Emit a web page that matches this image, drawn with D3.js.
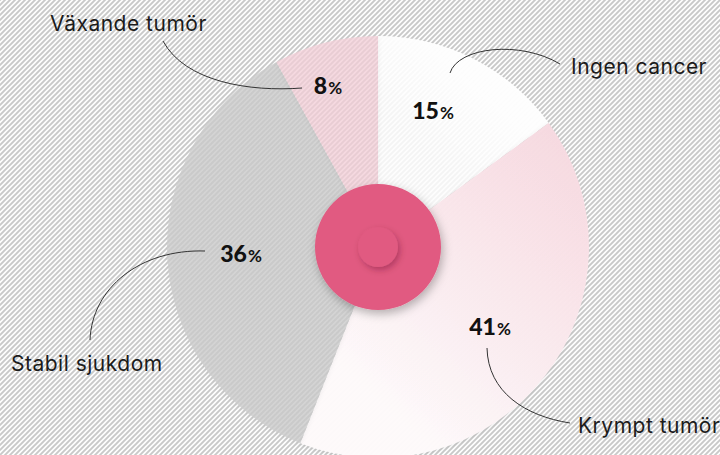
<!DOCTYPE html>
<html><head><meta charset="utf-8">
<script src="https://cdn.jsdelivr.net/npm/d3@7"></script>
<style>html,body{margin:0;padding:0;background:#fff;}svg{display:block;}</style>
</head><body><svg id="c" width="720" height="455"></svg>
<script>
// ---- data ----
const categories = ["Ingen cancer", "Krympt tumör", "Stabil sjukdom", "Växande tumör"];
const values = [15, 41, 36, 8];
const percentLabels = ["15", "41", "36", "8"];

// ---- layout ----
const W = 720, H = 455, cx = 378, cy = 247, R = 211;
const holeR = 63, knobR = 20;
const pctPos = [[433, 119], [490, 335], [241, 262], [328, 94]];
const catPos = [[571, 74], [578, 433], [11, 371], [50, 31]];
const leaders = [
  "M450,73 C458,47 520,40 560,64",
  "M487,348 C488,392 525,416 570,423",
  "M205,251 C140,249 92,288 90,340",
  "M163,41 C185,82 250,92 302,88"
];
const fills = ["url(#gIngen)", "url(#gKrympt)", "url(#gStabil)", "url(#gVax)"];

const svg = d3.select("#c");
const defs = svg.append("defs");

// hatch pattern
const pat = defs.append("pattern").attr("id", "hatch").attr("patternUnits", "userSpaceOnUse")
  .attr("width", 5).attr("height", 5);
pat.append("rect").attr("width", 5).attr("height", 5).attr("fill", "#ffffff");
pat.append("path").attr("d", "M-1,1 l2,-2 M0,5 l5,-5 M4,6 l2,-2")
  .attr("stroke", "#c9c9c9").attr("stroke-width", 1.9);

function lin(id, x1, y1, x2, y2, stops) {
  const g = defs.append("linearGradient").attr("id", id).attr("gradientUnits", "userSpaceOnUse")
    .attr("x1", x1).attr("y1", y1).attr("x2", x2).attr("y2", y2);
  stops.forEach(s => g.append("stop").attr("offset", s[0]).attr("stop-color", s[1]).attr("stop-opacity", s[2]));
}
lin("gIngen", 540, 60, 400, 220, [[0, "#ffffff", 1], [0.6, "#ffffff", 0.95], [1, "#ffffff", 0.8]]);
lin("gKrympt", 560, 170, 320, 440, [[0, "#f6d5dd", 0.97], [1, "#fefafb", 0.97]]);
lin("gStabil", 170, 300, 360, 200, [[0, "#cbcbcb", 0.78], [1, "#e0e0e0", 0.76]]);
lin("gVax", 330, 40, 370, 200, [[0, "#f4cfd8", 0.75], [1, "#fbeef1", 0.7]]);

const sh1 = defs.append("filter").attr("id", "sh1").attr("x", "-30%").attr("y", "-30%").attr("width", "160%").attr("height", "160%");
sh1.append("feDropShadow").attr("dx", 2).attr("dy", 4).attr("stdDeviation", 5)
  .attr("flood-color", "#000").attr("flood-opacity", 0.28);
const sh2 = defs.append("filter").attr("id", "sh2").attr("x", "-50%").attr("y", "-50%").attr("width", "200%").attr("height", "200%");
sh2.append("feDropShadow").attr("dx", 2).attr("dy", 3).attr("stdDeviation", 3)
  .attr("flood-color", "#5a0f28").attr("flood-opacity", 0.35);
const sh0 = defs.append("filter").attr("id", "sh0").attr("x", "-10%").attr("y", "-10%").attr("width", "120%").attr("height", "120%");
sh0.append("feDropShadow").attr("dx", 0).attr("dy", 1).attr("stdDeviation", 2)
  .attr("flood-color", "#000").attr("flood-opacity", 0.08);

svg.append("rect").attr("width", W).attr("height", H).attr("fill", "url(#hatch)");

const pie = d3.pie().sort(null).value(d => d)(values);
const arc = d3.arc().innerRadius(0).outerRadius(R);

const g = svg.append("g").attr("transform", `translate(${cx},${cy})`);
g.selectAll("path.slice").data(pie).join("path").attr("class", "slice")
  .attr("d", arc).attr("fill", (d, i) => fills[i]).attr("filter", "url(#sh0)");

// center discs
g.append("circle").attr("r", holeR).attr("fill", "#e15a81").attr("filter", "url(#sh1)");
g.append("circle").attr("r", knobR).attr("fill", "#e15a81").attr("filter", "url(#sh2)");

// leader lines
svg.selectAll("path.leader").data(leaders).join("path").attr("class", "leader")
  .attr("d", d => d).attr("fill", "none").attr("stroke", "#333").attr("stroke-width", 1);

// category labels
svg.selectAll("text.cat").data(categories).join("text").attr("class", "cat")
  .attr("x", (d, i) => catPos[i][0]).attr("y", (d, i) => catPos[i][1])
  .attr("font-family", "Inter, 'Open Sans', sans-serif").attr("font-size", 21)
  .attr("letter-spacing", 0.5).attr("fill", "#1b1b1b").text(d => d);

// percent labels
const pt = svg.selectAll("text.pct").data(percentLabels).join("text").attr("class", "pct")
  .attr("x", (d, i) => pctPos[i][0]).attr("y", (d, i) => pctPos[i][1])
  .attr("text-anchor", "middle").attr("font-family", "Lato, sans-serif").attr("fill", "#111");
pt.append("tspan").attr("font-size", 23).attr("font-weight", 900).text(d => d);
pt.append("tspan").attr("font-size", 17).attr("font-weight", 700).attr("dx", 1).text("%");
</script></body></html>
